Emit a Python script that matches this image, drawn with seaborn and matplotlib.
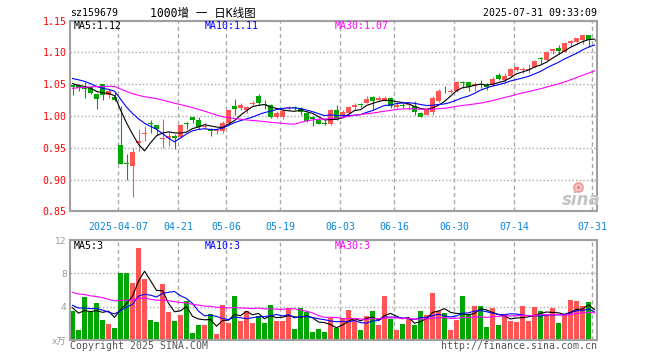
import numpy as np
import pandas as pd
import matplotlib
matplotlib.use("Agg")
import matplotlib.pyplot as plt
from matplotlib.lines import Line2D
import seaborn as sns

# ---------------- data ----------------
holidays = ["2025-04-04", "2025-05-01", "2025-05-02", "2025-05-05", "2025-06-02"]
dates = [d for d in pd.bdate_range("2025-03-25", "2025-07-31") if d.strftime("%Y-%m-%d") not in holidays]

open_ = [1.049, 1.049, 1.045, 1.045, 1.035, 1.050, 1.033, 1.030, 0.954, 0.926,
         0.922, 0.957, 0.972, 0.988, 0.986, 0.964, 0.966, 0.969, 0.967, 0.988,
         0.998, 0.993, 0.982, 0.980, 0.976, 0.977, 0.989, 1.015, 1.012, 1.010,
         1.019, 1.032, 1.019, 1.018, 0.998, 0.998, 1.012, 1.014, 1.012, 1.005,
         0.998, 0.993, 0.989, 0.988, 1.010, 1.000, 1.005, 1.014, 1.018, 1.021,
         1.030, 1.025, 1.024, 1.028, 1.014, 1.018, 1.017, 1.016, 1.005, 1.002,
         1.007, 1.024, 1.038, 1.037, 1.039, 1.054, 1.054, 1.048, 1.051, 1.049,
         1.049, 1.065, 1.057, 1.063, 1.072, 1.072, 1.072, 1.077, 1.092, 1.088,
         1.103, 1.107, 1.101, 1.115, 1.117, 1.119, 1.127, 1.120]
high = [1.051, 1.051, 1.054, 1.047, 1.036, 1.051, 1.042, 1.038, 1.016, 0.940,
        0.950, 0.979, 0.984, 0.994, 0.986, 0.995, 0.975, 0.972, 0.988, 0.990,
        0.999, 0.998, 0.989, 0.981, 0.981, 0.992, 1.011, 1.027, 1.021, 1.016,
        1.023, 1.034, 1.025, 1.019, 1.008, 1.011, 1.016, 1.016, 1.014, 1.007,
        1.000, 0.997, 0.993, 1.011, 1.018, 1.010, 1.016, 1.020, 1.021, 1.031,
        1.031, 1.032, 1.031, 1.030, 1.021, 1.021, 1.020, 1.024, 1.007, 1.012,
        1.031, 1.043, 1.048, 1.042, 1.055, 1.055, 1.054, 1.053, 1.057, 1.052,
        1.061, 1.067, 1.067, 1.076, 1.079, 1.077, 1.082, 1.088, 1.093, 1.102,
        1.106, 1.111, 1.117, 1.119, 1.123, 1.128, 1.127, 1.121]
low = [1.033, 1.040, 1.029, 1.034, 1.011, 1.025, 1.029, 1.023, 0.924, 0.900,
       0.873, 0.945, 0.961, 0.974, 0.970, 0.950, 0.953, 0.948, 0.966, 0.979,
       0.989, 0.980, 0.979, 0.968, 0.971, 0.974, 0.987, 1.002, 1.010, 1.005,
       1.016, 1.018, 1.011, 0.997, 0.997, 0.996, 1.010, 1.009, 1.002, 0.991,
       0.985, 0.988, 0.986, 0.986, 0.993, 0.997, 1.004, 1.010, 1.014, 1.020,
       1.009, 1.024, 1.023, 1.013, 1.013, 1.013, 1.010, 1.002, 0.998, 1.001,
       1.001, 1.022, 1.036, 1.036, 1.037, 1.044, 1.039, 1.040, 1.044, 1.041,
       1.048, 1.057, 1.052, 1.062, 1.071, 1.068, 1.068, 1.075, 1.082, 1.087,
       1.097, 1.097, 1.100, 1.110, 1.114, 1.113, 1.109, 1.118]
close = [1.045, 1.044, 1.043, 1.036, 1.026, 1.033, 1.040, 1.025, 0.924, 0.924,
         0.944, 0.960, 0.974, 0.987, 0.979, 0.966, 0.969, 0.966, 0.986, 0.987,
         0.993, 0.982, 0.984, 0.976, 0.978, 0.989, 1.010, 1.011, 1.018, 1.014,
         1.021, 1.020, 1.017, 0.998, 1.004, 1.008, 1.014, 1.013, 1.007, 0.992,
         0.995, 0.988, 0.987, 1.010, 0.994, 1.007, 1.014, 1.018, 1.017, 1.027,
         1.023, 1.029, 1.028, 1.015, 1.018, 1.016, 1.019, 1.007, 0.999, 1.011,
         1.028, 1.040, 1.037, 1.040, 1.054, 1.052, 1.046, 1.050, 1.049, 1.046,
         1.059, 1.059, 1.063, 1.074, 1.077, 1.074, 1.074, 1.087, 1.089, 1.100,
         1.105, 1.103, 1.115, 1.118, 1.122, 1.127, 1.119, 1.119]
volume = [3.50, 1.23, 5.20, 3.40, 4.46, 2.43, 1.95, 1.47, 8.05, 8.05,
          6.85, 11.04, 7.33, 2.43, 2.19, 6.73, 3.39, 2.31, 3.03, 4.70,
          0.88, 1.83, 1.83, 3.15, 0.76, 4.22, 2.07, 5.30, 2.31, 3.50,
          2.07, 2.90, 2.07, 4.22, 2.31, 2.31, 3.86, 1.35, 3.86, 3.39,
          1.00, 1.35, 1.00, 2.67, 1.47, 2.67, 3.63, 2.67, 1.23, 2.90,
          3.50, 1.83, 5.30, 2.55, 1.23, 1.95, 2.67, 1.83, 3.50, 3.03,
          5.66, 3.50, 3.27, 1.23, 2.43, 5.30, 3.03, 4.10, 4.10, 1.60,
          3.86, 1.83, 3.15, 2.31, 2.19, 4.10, 2.31, 3.98, 3.50, 3.03,
          3.86, 2.07, 3.03, 4.82, 4.70, 4.10, 4.58, 0.16]

# history before the visible window (only feeds the moving averages)
prior_close = [1.010, 1.018, 1.022, 1.015, 1.025, 1.030, 1.034, 1.040, 1.044, 1.046,
               1.042, 1.036, 1.030, 1.028, 1.035, 1.040, 1.045, 1.052, 1.058, 1.062,
               1.064, 1.068, 1.072, 1.070, 1.061, 1.058, 1.052, 1.050, 1.050]
prior_volume = [7.5, 6.8, 8.2, 7.0, 6.5, 7.8, 6.9, 6.9, 6.4, 6.0,
                6.3, 5.8, 6.6, 5.9, 5.5, 6.2, 6.0, 5.7, 6.4, 5.9,
                4.6, 5.1, 4.2, 4.3, 4.2, 4.5, 3.6, 4.1, 3.8]

tick_dates = ["2025-04-07", "2025-04-21", "2025-05-06", "2025-05-19", "2025-06-03",
              "2025-06-16", "2025-06-30", "2025-07-14", "2025-07-31"]
price_ticks = [0.85, 0.90, 0.95, 1.00, 1.05, 1.10, 1.15]
vol_ticks = [0, 4, 8, 12]
vol_tick_labels = ["x万", "4", "8", "12"]

# ---------------- derived ----------------
n = len(close)
date_str = [d.strftime("%Y-%m-%d") for d in dates]
tick_idx = [date_str.index(t) for t in tick_dates]
tick_lab = [tick_dates[0]] + [t[5:] for t in tick_dates[1:]]

cfull = pd.Series(prior_close + close)
vfull = pd.Series(prior_volume + volume)
np_ = len(prior_close)
ma = {k: cfull.rolling(k).mean().values[np_:] for k in (5, 10, 30)}
vma = {k: vfull.rolling(k).mean().values[np_:] for k in (5, 10, 30)}

RED = "#ff5555"
GREEN = "#00a600"
up = [c >= o for o, c in zip(open_, close)]
colors = [RED if u else GREEN for u in up]

xs = np.arange(n) + 0.42
df = pd.DataFrame({"x": xs, "vol": volume, "dir": ["up" if u else "down" for u in up]})

# ---------------- figure ----------------
W, H = 660, 360
fig = plt.figure(figsize=(6.6, 3.6), dpi=100)
axp = fig.add_axes([70 / W, 1 - 211.3 / H, 527 / W, 190.6 / H])
axv = fig.add_axes([70 / W, 1 - 340.3 / H, 527 / W, 100.3 / H])

MONO = "DejaVu Sans Mono"
FS = 7.1
GRID = "#aaaaaa"
LW = 0.8

for ax in (axp, axv):
    ax.set_facecolor("white")
    for s in ax.spines.values():
        s.set_color("#a0a0a0")
        s.set_linewidth(1.5)
    ax.set_xlim(0, 87.83)
    ax.set_xticks(tick_idx)
    ax.grid(axis="x", color=GRID, linestyle=(0, (3, 2.2)), linewidth=1.0)
    ax.grid(axis="y", color=GRID, linestyle=(0, (1, 1.6)), linewidth=1.0)
    ax.set_axisbelow(True)
    ax.tick_params(length=0)

# candles
body_w = 0.8
for i in range(n):
    o, h, l, c = open_[i], high[i], low[i], close[i]
    axp.vlines(xs[i], l, h, color=colors[i], linewidth=0.8, zorder=2)
    lo, hi = min(o, c), max(o, c)
    axp.bar(xs[i], max(hi - lo, 0.0012), bottom=lo, width=body_w, color=colors[i],
            linewidth=0, zorder=2)

sns.lineplot(x=xs, y=ma[5], color="black", linewidth=LW, ax=axp, zorder=3)
sns.lineplot(x=xs, y=ma[10], color="#0000ff", linewidth=LW, ax=axp, zorder=3)
sns.lineplot(x=xs, y=ma[30], color="#ff00ff", linewidth=LW, ax=axp, zorder=3)

axp.set_ylim(0.85, 1.15)
axp.set_yticks(price_ticks)
axp.set_yticklabels([f"{v:.2f}" for v in price_ticks], color="#ff0000",
                    family=MONO, fontsize=FS)
axp.tick_params(axis="y", pad=2.4)
axp.set_xticklabels(tick_lab, color="#0a86dc", family=MONO, fontsize=FS)
axp.tick_params(axis="x", pad=8.0)
axp.set_xlabel("")
axp.set_ylabel("")

# volume
sns.barplot(data=df, x="x", y="vol", hue="dir", palette={"up": RED, "down": GREEN},
            native_scale=True, dodge=False, width=0.83, saturation=1, linewidth=0,
            legend=False, ax=axv, zorder=2)
sns.lineplot(x=xs, y=vma[5], color="black", linewidth=LW, ax=axv, zorder=3)
sns.lineplot(x=xs, y=vma[10], color="#0000ff", linewidth=LW, ax=axv, zorder=3)
sns.lineplot(x=xs, y=vma[30], color="#ff00ff", linewidth=LW, ax=axv, zorder=3)
axv.set_xlim(0, 87.83)
axv.set_xticks(tick_idx)
axv.set_xticklabels([])
axv.set_ylim(0, 12)
axv.set_yticks(vol_ticks)
axv.set_yticklabels(vol_tick_labels, color="#999999", fontsize=6.6,
                    family=["DejaVu Sans", "Noto Sans CJK SC"])
axv.tick_params(axis="y", pad=2.4)
axv.set_xlabel("")
axv.set_ylabel("")

# ---------------- texts ----------------
def ftext(x, y, s, **kw):
    fig.text(x / W, 1 - y / H, s, va="center", **kw)

ftext(70, 13, "sz159679", family=MONO, fontsize=FS, color="black")
ftext(150, 13, "1000增 一 日K线图", family=[MONO, "Noto Sans CJK SC"], fontsize=8.3, color="black")
ftext(597, 13, "2025-07-31 09:33:09", family=MONO, fontsize=FS, color="black", ha="right")

ftext(74, 26, f"MA5:{ma[5][-1]:.2f}", family=MONO, fontsize=FS, color="black")
ftext(205, 26, f"MA10:{ma[10][-1]:.2f}", family=MONO, fontsize=FS, color="#0000ff")
ftext(335, 26, f"MA30:{ma[30][-1]:.2f}", family=MONO, fontsize=FS, color="#ff00ff")

ftext(74, 246, f"MA5:{int(vma[5][-1])}", family=MONO, fontsize=FS, color="black")
ftext(205, 246, f"MA10:{int(vma[10][-1])}", family=MONO, fontsize=FS, color="#0000ff")
ftext(335, 246, f"MA30:{int(vma[30][-1])}", family=MONO, fontsize=FS, color="#ff00ff")

ftext(70, 346, "Copyright 2025 SINA.COM", family=MONO, fontsize=FS, color="#555555")
ftext(597, 346, "http://finance.sina.com.cn", family=MONO, fontsize=FS, color="#555555", ha="right")

# sina watermark: gray word plus a light red "eye" drawn as a marker
ftext(581, 200, "sina", fontsize=12, fontweight="bold", style="italic", color="#c4c4c4", ha="center")
fig.add_artist(Line2D([578 / W], [1 - 187 / H], marker="o", markersize=6.5,
                      markerfacecolor="#f8c4c4", markeredgecolor="#f09a9a",
                      markeredgewidth=1.2, linestyle="none", transform=fig.transFigure))
fig.add_artist(Line2D([578 / W], [1 - 187 / H], marker="o", markersize=2.2,
                      markerfacecolor="#e88080", markeredgecolor="none",
                      linestyle="none", transform=fig.transFigure))

fig.savefig("out.png", dpi=100)
